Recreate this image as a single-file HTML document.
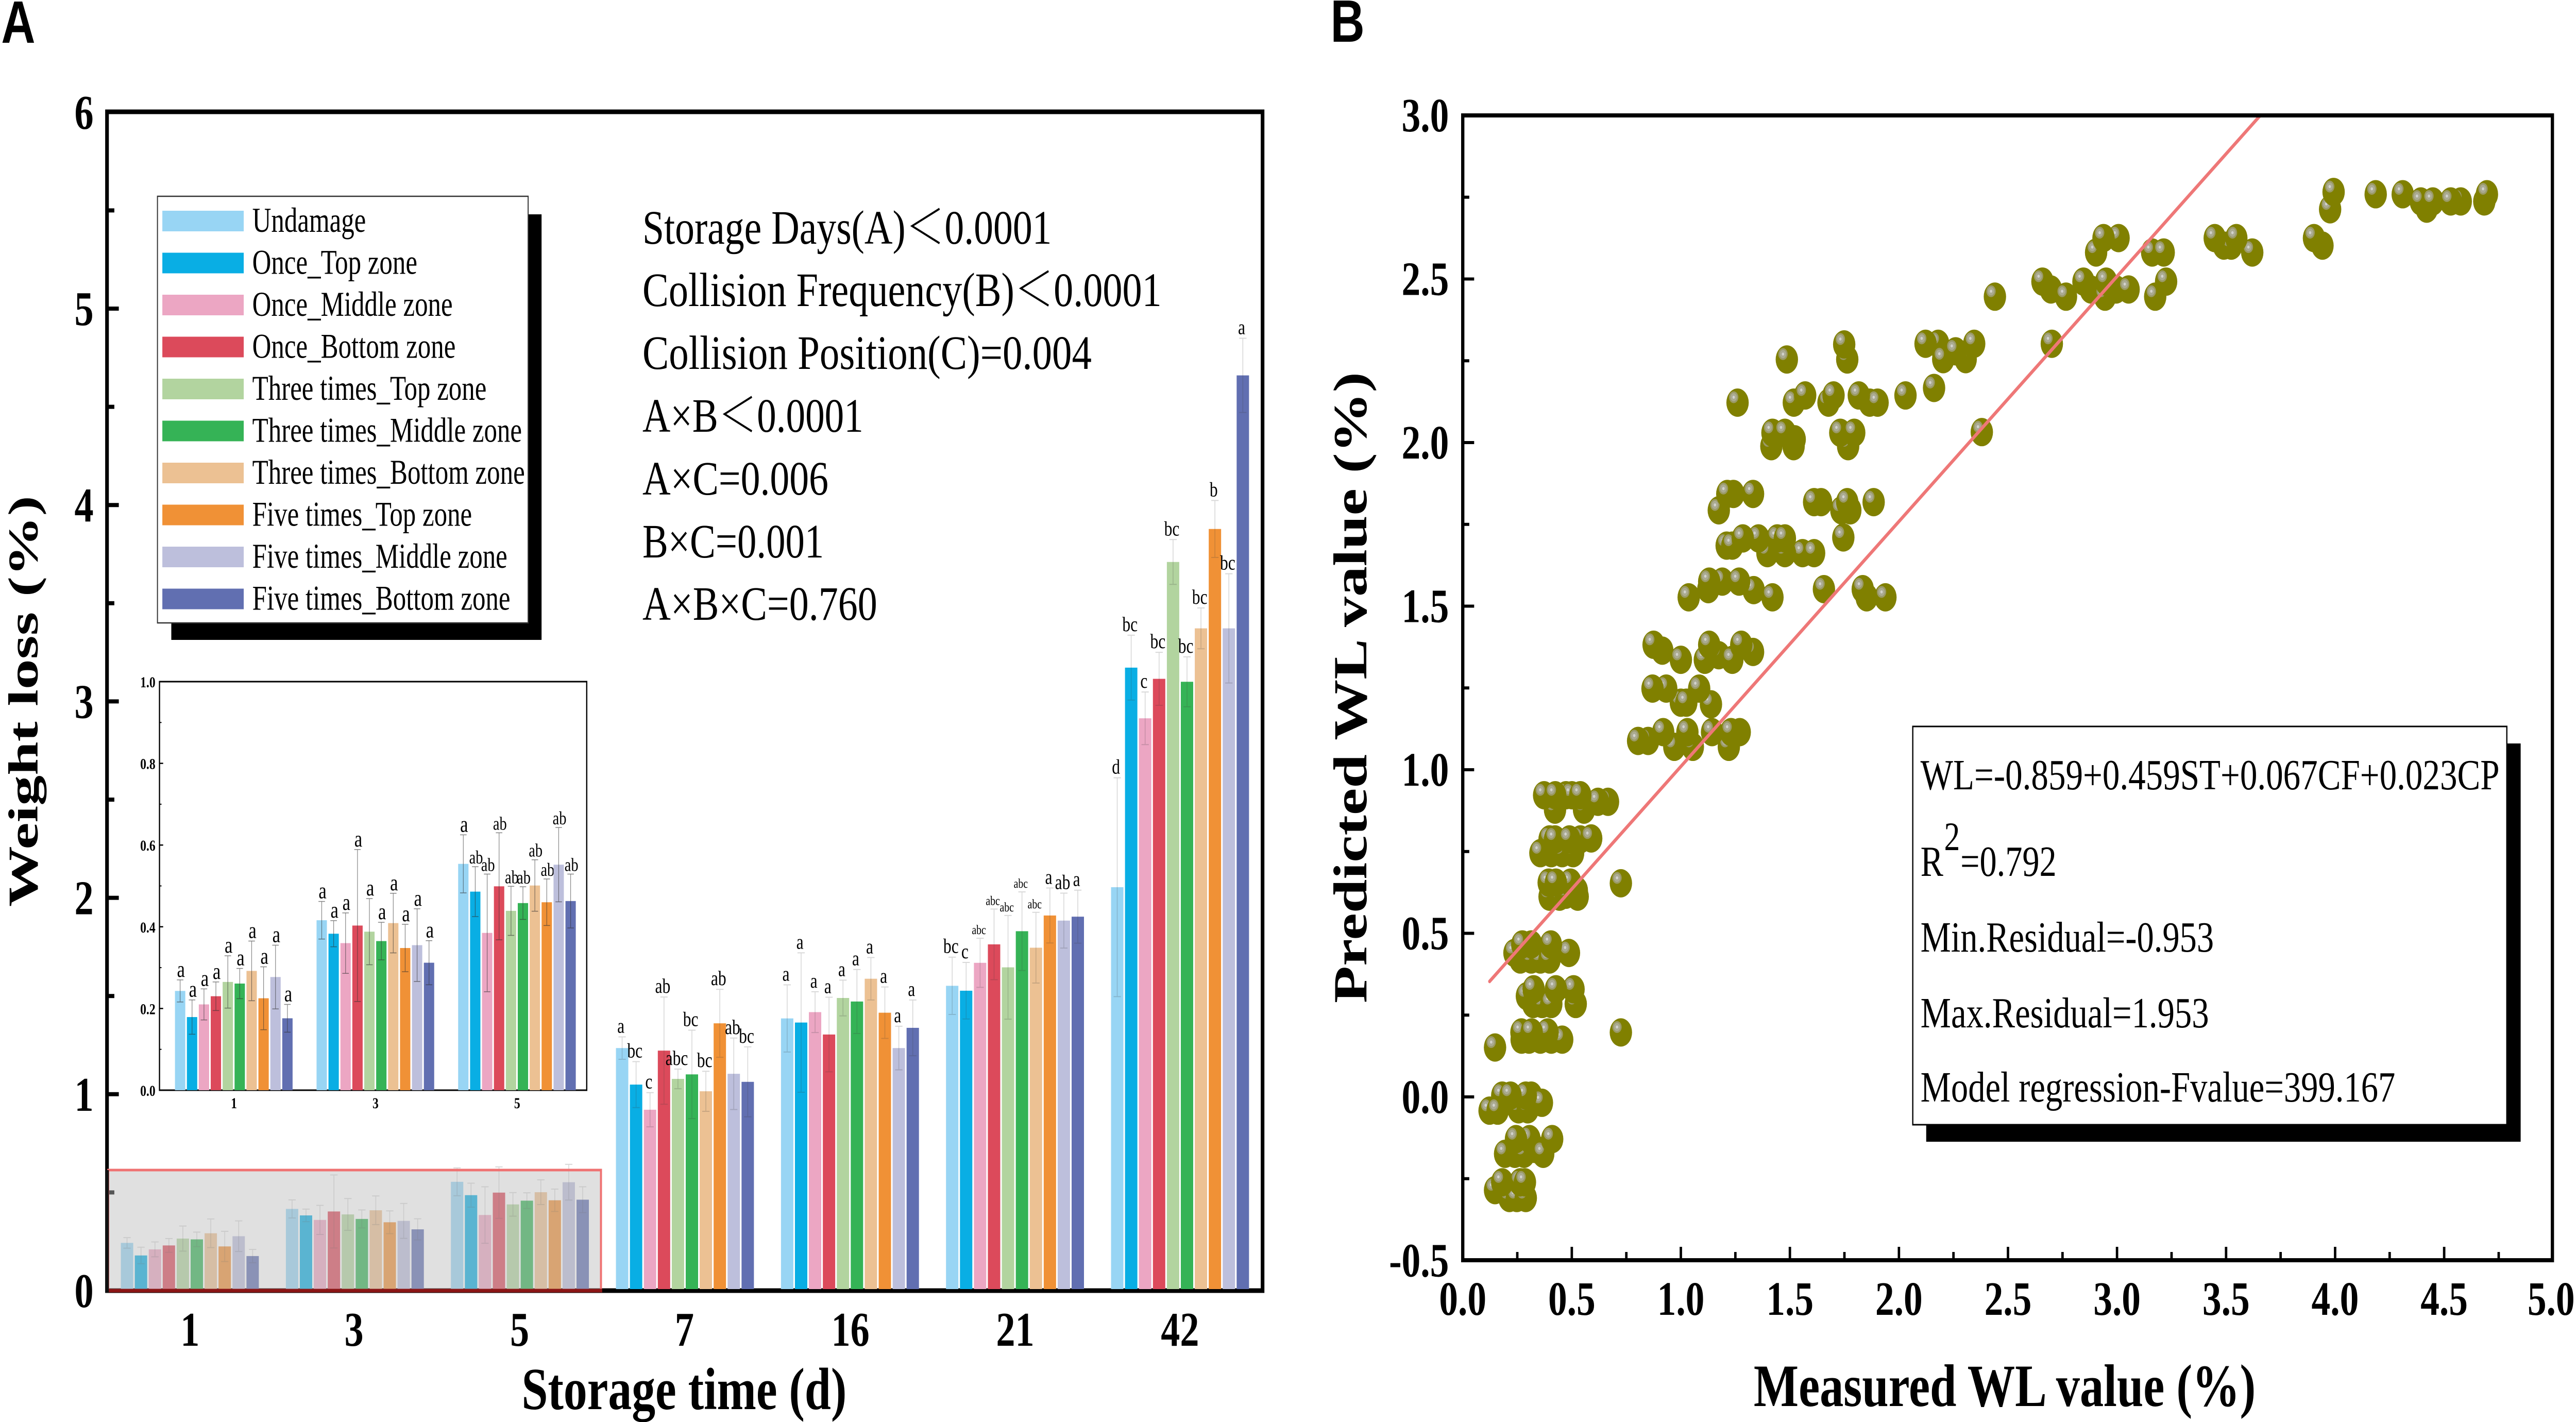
<!DOCTYPE html>
<html lang="en">
<head>
<meta charset="utf-8">
<title>Weight loss and regression charts</title>
<style>
html,body{margin:0;padding:0;background:#fff;width:100%;height:100%;overflow:hidden}
svg{display:block;width:100vw;height:100vh}
text{font-family:"Liberation Serif","Noto Serif CJK SC",serif;fill:#000}
.bold{font-weight:700}
.panel{font-family:"Liberation Sans",sans-serif;font-weight:700;font-size:116px}
.note{font-size:93px}
.reg{font-size:84px}
</style>
</head>
<body>
<svg id="chart" xmlns="http://www.w3.org/2000/svg" viewBox="0 0 6331 2760" preserveAspectRatio="none">
  <rect width="6331" height="2760" fill="#fff"/>
  <text class="panel" x="3" y="83">A</text>
  <text class="panel" x="3270" y="81">B</text>

  <g id="panelA"></g>
  <text class="bold" x="1282" y="2735" font-size="116">Storage time (d)</text>
  <text class="bold" transform="translate(92,1760) rotate(-90)" font-size="103" textLength="798" lengthAdjust="spacingAndGlyphs">Weight loss (%)</text>

  <g id="annotations">
    <text class="note" x="1579" y="473" textLength="1006" lengthAdjust="spacingAndGlyphs">Storage Days(A)＜0.0001</text>
    <text class="note" x="1579" y="594" textLength="1276" lengthAdjust="spacingAndGlyphs">Collision Frequency(B)＜0.0001</text>
    <text class="note" x="1579" y="716" textLength="1104" lengthAdjust="spacingAndGlyphs">Collision Position(C)=0.004</text>
    <text class="note" x="1579" y="838" textLength="543" lengthAdjust="spacingAndGlyphs">A×B＜0.0001</text>
    <text class="note" x="1579" y="960" textLength="457" lengthAdjust="spacingAndGlyphs">A×C=0.006</text>
    <text class="note" x="1579" y="1082" textLength="446" lengthAdjust="spacingAndGlyphs">B×C=0.001</text>
    <text class="note" x="1579" y="1203" textLength="577" lengthAdjust="spacingAndGlyphs">A×B×C=0.760</text>
  </g>

  <g id="panelB"></g>
  <text class="bold" x="4310" y="2729" font-size="117">Measured WL value (%)</text>
  <text class="bold" transform="translate(3358,1947) rotate(-90)" font-size="117" textLength="1225" lengthAdjust="spacingAndGlyphs">Predicted WL value (%)</text>

  <g id="regressionBox">
    <rect x="4734" y="1443" width="1461" height="773" fill="#000"/>
    <rect x="4701" y="1410" width="1460" height="773" fill="#fff" stroke="#000" stroke-width="3"/>
    <text class="reg" x="4720" y="1532" textLength="1423" lengthAdjust="spacingAndGlyphs">WL=-0.859+0.459ST+0.067CF+0.023CP</text>
    <text class="reg"><tspan x="4720" y="1700">R</tspan><tspan x="4778" y="1650" font-size="78">2</tspan><tspan x="4818" y="1700">=0.792</tspan></text>
    <text class="reg" x="4720" y="1847" textLength="721" lengthAdjust="spacingAndGlyphs">Min.Residual=-0.953</text>
    <text class="reg" x="4720" y="1994" textLength="709" lengthAdjust="spacingAndGlyphs">Max.Residual=1.953</text>
    <text class="reg" x="4720" y="2138" textLength="1167" lengthAdjust="spacingAndGlyphs">Model regression-Fvalue=399.167</text>
  </g>
</svg>

<script>
// ---------- Panel A data ----------
const storageDays = ['1', '3', '5', '7', '16', '21', '42'];
const seriesNames = ['Undamage', 'Once_Top zone', 'Once_Middle zone', 'Once_Bottom zone', 'Three times_Top zone', 'Three times_Middle zone', 'Three times_Bottom zone', 'Five times_Top zone', 'Five times_Middle zone', 'Five times_Bottom zone'];
const seriesColors = ['#98D5F4', '#09AEE4', '#ECA6C3', '#DC4A5B', '#B2D49F', '#35B356', '#ECC193', '#F09136', '#BDBFDC', '#616FB1'];

const meanDay1 = [0.243, 0.179, 0.21, 0.23, 0.265, 0.261, 0.292, 0.225, 0.277, 0.176];
const meanDay3 = [0.416, 0.383, 0.36, 0.403, 0.388, 0.365, 0.409, 0.348, 0.355, 0.312];
const meanDay5 = [0.554, 0.486, 0.385, 0.499, 0.439, 0.458, 0.501, 0.46, 0.552, 0.463];
const meanDay7 = [1.235, 1.049, 0.921, 1.222, 1.078, 1.101, 1.015, 1.361, 1.104, 1.063];
const meanDay16 = [1.386, 1.365, 1.418, 1.304, 1.49, 1.472, 1.588, 1.415, 1.235, 1.338];
const meanDay21 = [1.552, 1.527, 1.669, 1.763, 1.646, 1.83, 1.746, 1.91, 1.884, 1.904];
const meanDay42 = [2.054, 3.172, 2.914, 3.115, 3.71, 3.1, 3.372, 3.878, 3.372, 4.66];

const errorDay1 = [0.027, 0.042, 0.038, 0.035, 0.064, 0.037, 0.073, 0.077, 0.078, 0.034];
const errorDay3 = [0.046, 0.032, 0.074, 0.186, 0.081, 0.046, 0.073, 0.058, 0.089, 0.054];
const errorDay5 = [0.071, 0.061, 0.144, 0.131, 0.06, 0.04, 0.063, 0.057, 0.091, 0.066];
const errorDay7 = [0.057, 0.117, 0.087, 0.273, 0.05, 0.225, 0.102, 0.173, 0.182, 0.178];
const errorDay16 = [0.171, 0.355, 0.104, 0.19, 0.091, 0.163, 0.108, 0.131, 0.111, 0.142];
const errorDay21 = [0.146, 0.144, 0.125, 0.18, 0.264, 0.2, 0.18, 0.14, 0.14, 0.135];
const errorDay42 = [0.557, 0.165, 0.134, 0.135, 0.114, 0.127, 0.104, 0.145, 0.278, 0.189];

const lettersDay1 = ['a', 'a', 'a', 'a', 'a', 'a', 'a', 'a', 'a', 'a'];
const lettersDay3 = ['a', 'a', 'a', 'a', 'a', 'a', 'a', 'a', 'a', 'a'];
const lettersDay5 = ['a', 'ab', 'ab', 'ab', 'ab', 'ab', 'ab', 'ab', 'ab', 'ab'];
const lettersDay7 = ['a', 'bc', 'c', 'ab', 'abc', 'bc', 'bc', 'ab', 'ab', 'bc'];
const lettersDay16 = ['a', 'a', 'a', 'a', 'a', 'a', 'a', 'a', 'a', 'a'];
const lettersDay21 = ['bc', 'c', 'abc', 'abc', 'abc', 'abc', 'abc', 'a', 'ab', 'a'];
const lettersDay42 = ['d', 'bc', 'c', 'bc', 'bc', 'bc', 'bc', 'b', 'bc', 'a'];

const mainYTickLabels = ['0', '1', '2', '3', '4', '5', '6'];
const mainYMinorTicks = [0.5, 1.5, 2.5, 3.5, 4.5, 5.5];
const insetDays = ['1', '3', '5'];
const insetYTickLabels = ['0.0', '0.2', '0.4', '0.6', '0.8', '1.0'];
const insetYMinorTicks = [0.1, 0.3, 0.5, 0.7, 0.9];

// ---------- Panel B data ----------
const measuredWL = [
  0.148,0.214,0.248,0.289,0.181,0.264,0.285,
  0.239,0.281,0.331,0.194,0.306,0.244,0.369,0.41,
  0.256,0.298,0.314,0.181,0.123,0.16,0.363,0.289,0.219,
  0.148,
  0.27,0.304,0.356,0.406,0.456,0.389,0.269,0.316,
  0.725,
  0.323,0.364,0.406,0.518,0.294,0.508,0.325,0.427,
  0.264,0.314,0.356,0.398,0.314,0.237,0.487,0.273,0.404,
  0.725,
  0.398,0.444,0.527,0.473,0.523,0.394,0.494,0.427,
  0.406,0.456,0.506,0.539,0.398,0.356,0.589,0.423,0.489,
  0.423,0.556,0.473,0.666,0.62,0.373,0.5,0.424,0.539,
  0.85,0.804,0.97,1.055,1.22,1.27,1.23,0.919,1.03,1.143,
  1.0,1.025,1.138,1.084,0.933,0.87,
  0.915,1.0,1.11,1.174,1.236,1.331,1.277,0.875,1.13,
  1.036,1.126,1.19,1.334,1.42,1.656,1.852,1.938,1.834,1.13,1.267,
  1.397,1.558,1.611,1.477,1.356,1.21,1.236,1.284,1.442,1.477,1.745,
  1.174,1.331,1.241,1.213,1.643,1.736,1.777,1.611,1.763,1.884,
  1.415,1.517,1.522,1.42,1.477,1.767,1.731,1.795,
  1.26,1.518,1.57,1.677,1.7,1.866,1.902,1.816,2.03,2.161,
  1.486,1.763,1.749,
  2.18,2.203,2.306,2.26,2.122,2.345,2.38,2.701,2.44,
  2.697,2.766,2.88,2.996,3.053,2.945,3.175,2.658,2.846,2.95,3.225,
  2.904,3.007,2.938,3.161,3.214,
  3.49,3.524,3.62,3.448,3.547,3.942,3.903,
  3.977,3.993,4.186,4.42,4.31,4.393,4.448,4.576,4.53,4.684,4.696
];
const predictedWL = [
  -0.285,-0.309,-0.309,-0.309,-0.261,-0.261,-0.261,
  -0.174,-0.174,-0.159,-0.174,-0.129,-0.129,-0.174,-0.129,
  -0.038,-0.038,0.004,0.004,-0.042,-0.042,-0.018,0.004,0.004,
  0.151,
  0.175,0.175,0.175,0.175,0.175,0.197,0.197,0.197,
  0.197,
  0.284,0.284,0.284,0.284,0.308,0.329,0.329,0.329,
  0.42,0.42,0.42,0.42,0.466,0.44,0.44,0.466,0.466,
  0.653,
  0.612,0.612,0.612,0.618,0.631,0.655,0.655,0.655,
  0.745,0.745,0.745,0.787,0.787,0.745,0.79,0.787,0.787,
  0.878,0.878,0.922,0.902,0.902,0.922,0.922,0.922,0.922,
  1.088,1.088,1.07,1.07,1.07,1.115,1.115,1.115,1.115,1.115,
  1.205,1.205,1.2,1.248,1.248,1.248,
  1.364,1.336,1.336,1.35,1.336,1.36,1.382,1.382,1.382,
  1.527,1.552,1.575,1.549,1.527,1.552,1.527,1.527,1.552,1.575,1.575,
  1.662,1.662,1.662,1.662,1.707,1.685,1.685,1.707,1.707,1.707,1.71,
  1.793,1.843,1.843,1.843,1.818,1.793,1.793,1.818,1.818,1.818,
  1.989,1.989,2.01,2.03,2.03,1.989,2.03,2.03,
  2.122,2.122,2.144,2.122,2.144,2.122,2.122,2.144,2.144,2.167,
  2.254,2.254,2.3,
  2.302,2.255,2.255,2.279,2.302,2.302,2.032,2.302,2.446,
  2.468,2.446,2.468,2.468,2.468,2.446,2.446,2.492,2.492,2.492,2.492,
  2.581,2.625,2.625,2.581,2.581,
  2.602,2.602,2.581,2.625,2.625,2.602,2.625,
  2.713,2.766,2.759,2.715,2.759,2.737,2.737,2.737,2.737,2.737,2.759
];
const trendMeasured = [0.123, 3.657];
const trendPredicted = [0.353, 3.0];
const xTickLabelsB = ['0.0', '0.5', '1.0', '1.5', '2.0', '2.5', '3.0', '3.5', '4.0', '4.5', '5.0'];
const yTickLabelsB = ['-0.5', '0.0', '0.5', '1.0', '1.5', '2.0', '2.5', '3.0'];

// ---------- helpers ----------
const NS = 'http://www.w3.org/2000/svg';
function mk(parent, tag, attrs, txt) {
  const el = document.createElementNS(NS, tag);
  for (const k in attrs) el.setAttribute(k, attrs[k]);
  if (txt !== undefined) el.textContent = txt;
  parent.appendChild(el);
  return el;
}
const panelA = document.getElementById('panelA');
const panelB = document.getElementById('panelB');
const allMeans = [meanDay1, meanDay3, meanDay5, meanDay7, meanDay16, meanDay21, meanDay42];
const allErrors = [errorDay1, errorDay3, errorDay5, errorDay7, errorDay16, errorDay21, errorDay42];
const allLetters = [lettersDay1, lettersDay3, lettersDay5, lettersDay7, lettersDay16, lettersDay21, lettersDay42];

// ---------- Panel A axes ----------
const yA = v => 2505 - v * 381.2;
const groupLeft = i => 297 + i * 405.6;
const barPitch = 34.3;
const barW = 30.4;
const groupCenter = [467, 870, 1277, 1682, 2090, 2495, 2900];

const frameA = mk(panelA, 'rect', {x: 263, y: 217, width: 2840, height: 2288, fill: 'none', stroke: '#000', 'stroke-width': 9});



mainYTickLabels.forEach(function (lab) {
  const v = parseFloat(lab);
  if (v > 0 && v < 6) {
    const t = mk(panelA, 'line', {x1: 263, x2: 292, y1: yA(v), y2: yA(v), stroke: '#000', 'stroke-width': 8});
    
    
  }
  const l = mk(panelA, 'text', {x: 230, y: yA(v) + 32, 'text-anchor': 'end', 'font-size': 94, 'font-weight': 700}, lab);
  
  
});
mainYMinorTicks.forEach(function (v) {
  const t = mk(panelA, 'line', {x1: 263, x2: 281, y1: yA(v), y2: yA(v), stroke: '#000', 'stroke-width': 8});
  
  
});
storageDays.forEach(function (d, i) {
  const l = mk(panelA, 'text', {x: groupCenter[i], y: 2612, 'text-anchor': 'middle', 'font-size': 94, 'font-weight': 700}, d);
  
  
});

// ---------- Panel A bars ----------
storageDays.forEach(function (day, g) {
  allMeans[g].forEach(function (m, s) {
    const x = groupLeft(g) + s * barPitch;
    const bar = mk(panelA, 'rect', {x: x, y: yA(m), width: barW, height: yA(0) - yA(m) - 3, fill: seriesColors[s]});
    
    
    const cx = x + barW / 2;
    const e = allErrors[g][s];
    const eb = mk(panelA, 'path', {
      d: 'M' + (cx - 9) + ' ' + yA(m + e) + 'H' + (cx + 9) + 'M' + cx + ' ' + yA(m + e) + 'V' + yA(m - e) + 'M' + (cx - 9) + ' ' + yA(m - e) + 'H' + (cx + 9),
      fill: 'none', stroke: 'rgba(60,60,60,.2)', 'stroke-width': 2
    });
    
    
    if (g >= 3) {
      const lt = allLetters[g][s];
      const fs = (day === '21' && lt === 'abc') ? 25 : 40;
      const lab = mk(panelA, 'text', {x: cx - 3, y: yA(m + e) - 8, 'text-anchor': 'middle', 'font-size': fs}, lt);
      
      
    }
  });
});

// ---------- Grey zoom highlight over days 1,3,5 ----------
const zoomRect = mk(panelA, 'rect', {x: 266, y: 2271, width: 1211, height: 234, fill: 'rgb(187,187,187)', 'fill-opacity': 0.46, stroke: '#EF7272', 'stroke-width': 5});


const zoomBase = mk(panelA, 'line', {x1: 262, x2: 1480, y1: 2505, y2: 2505, stroke: '#8B1515', 'stroke-width': 7});


const zoomAxis = mk(panelA, 'line', {x1: 263, x2: 263, y1: 2271, y2: 2509, stroke: '#111', 'stroke-width': 9});



// ---------- Inset ----------
const yI = v => 2116 - v * 793;
const insetLeft = i => 430 + i * 348;
const insetPitch = 29.3;
const insetBarW = 25.4;
const insetCenter = [575, 923, 1271];

const insetFrame = mk(panelA, 'rect', {x: 392, y: 1323, width: 1050, height: 793, fill: '#fff', stroke: '#000', 'stroke-width': 3});


insetYTickLabels.forEach(function (lab) {
  const v = parseFloat(lab);
  const t = mk(panelA, 'line', {x1: 392, x2: 401, y1: yI(v), y2: yI(v), stroke: '#000', 'stroke-width': 2.5});
  
  
  const l = mk(panelA, 'text', {x: 382, y: yI(v) + 11, 'text-anchor': 'end', 'font-size': 30, 'font-weight': 700}, lab);
  
  
});
insetYMinorTicks.forEach(function (v) {
  const t = mk(panelA, 'line', {x1: 392, x2: 397, y1: yI(v), y2: yI(v), stroke: '#000', 'stroke-width': 2});
  
  
});
insetDays.forEach(function (day, g) {
  const xl = mk(panelA, 'text', {x: insetCenter[g], y: 2151, 'text-anchor': 'middle', 'font-size': 30, 'font-weight': 700}, day);
  
  
  allMeans[g].forEach(function (m, s) {
    const x = insetLeft(g) + s * insetPitch;
    const bar = mk(panelA, 'rect', {x: x, y: yI(m), width: insetBarW, height: yI(0) - yI(m), fill: seriesColors[s]});
    
    
    const cx = x + insetBarW / 2;
    const e = allErrors[g][s];
    const eb = mk(panelA, 'path', {
      d: 'M' + (cx - 8) + ' ' + yI(m + e) + 'H' + (cx + 8) + 'M' + cx + ' ' + yI(m + e) + 'V' + yI(m - e) + 'M' + (cx - 8) + ' ' + yI(m - e) + 'H' + (cx + 8),
      fill: 'none', stroke: 'rgba(50,50,50,.6)', 'stroke-width': 1.5
    });
    
    
    const lt = allLetters[g][s];
    const lab = mk(panelA, 'text', {x: cx + 2, y: yI(m + e) - 6, 'text-anchor': 'middle', 'font-size': lt === 'a' ? 44 : 36}, lt);
    
    
  });
});

// ---------- Legend ----------
const legendShadow = mk(panelA, 'rect', {x: 421, y: 416, width: 910, height: 826, fill: '#000'});


const legendBox = mk(panelA, 'rect', {x: 387, y: 381, width: 911, height: 828, fill: '#fff', stroke: '#333', 'stroke-width': 2.5});


seriesNames.forEach(function (name, s) {
  const sw = mk(panelA, 'rect', {x: 399, y: 409 + s * 81.5, width: 200, height: 40, fill: seriesColors[s]});
  
  
  const t = mk(panelA, 'text', {x: 620, y: 450 + s * 81.5, 'font-size': 68}, name);
  
  
  t.setAttribute('textLength', t.getComputedTextLength() * 64.5 / 68);
  t.setAttribute('lengthAdjust', 'spacingAndGlyphs');
});

// ---------- Panel B axes ----------
const xB = v => 3595 + v * 536;
const yB = v => 224 + (3 - v) * 635;

xTickLabelsB.forEach(function (lab, i) {
  const v = parseFloat(lab);
  const last = i === xTickLabelsB.length - 1;
  if (i > 0 && !last) {
    const t = mk(panelB, 'line', {x1: xB(v), x2: xB(v), y1: 2446, y2: 2420, stroke: '#000', 'stroke-width': 6});
    
    
  }
  if (!last) {
    const m = mk(panelB, 'line', {x1: xB(v + 0.25), x2: xB(v + 0.25), y1: 2446, y2: 2430, stroke: '#000', 'stroke-width': 6});
    
    
  }
  const l = mk(panelB, 'text', {x: last ? 6328 : xB(v), y: 2552, 'text-anchor': last ? 'end' : 'middle', 'font-size': 93, 'font-weight': 700}, lab);
  
  
});
yTickLabelsB.forEach(function (lab, i) {
  const v = parseFloat(lab);
  if (i > 0 && i < yTickLabelsB.length - 1) {
    const t = mk(panelB, 'line', {x1: 3595, x2: 3623, y1: yB(v), y2: yB(v), stroke: '#000', 'stroke-width': 6});
    
    
  }
  if (i < yTickLabelsB.length - 1) {
    const m = mk(panelB, 'line', {x1: 3595, x2: 3611, y1: yB(v + 0.25), y2: yB(v + 0.25), stroke: '#000', 'stroke-width': 6});
    
    
  }
  const l = mk(panelB, 'text', {x: 3561, y: yB(v) + 31, 'text-anchor': 'end', 'font-size': 93, 'font-weight': 700}, lab);
  
  
});

// ---------- Scatter ----------
measuredWL.forEach(function (mx, i) {
  const cx = xB(mx);
  const cy = yB(predictedWL[i]);
  const g = mk(panelB, 'g', {});
  
  
  mk(g, 'circle', {cx: cx, cy: cy, r: 27.5, fill: '#808000'});
  mk(g, 'circle', {cx: cx - 9.5, cy: cy - 10.5, r: 11.5, fill: '#9B9A66'});
  mk(g, 'circle', {cx: cx - 9.5, cy: cy - 10.5, r: 8, fill: '#ABAB92'});
  mk(g, 'circle', {cx: cx - 9.5, cy: cy - 10.5, r: 3, fill: '#D2D2CC'});
});

const trend = mk(panelB, 'line', {
  x1: xB(trendMeasured[0]), y1: yB(trendPredicted[0]),
  x2: xB(trendMeasured[1]), y2: yB(trendPredicted[1]),
  stroke: '#EE7777', 'stroke-width': 7, 'stroke-linecap': 'round'
});



const frameB = mk(panelB, 'rect', {x: 3595, y: 224, width: 2678, height: 2222, fill: 'none', stroke: '#000', 'stroke-width': 8});


</script>
</body>
</html>
